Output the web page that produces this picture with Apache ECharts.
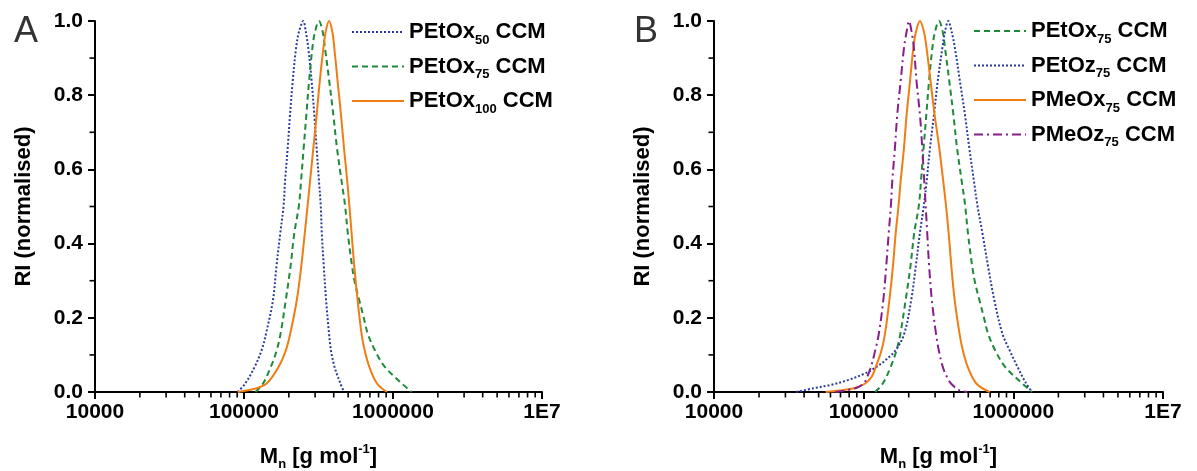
<!DOCTYPE html>
<html>
<head>
<meta charset="utf-8">
<title>GPC CCM</title>
<script src="https://cdn.jsdelivr.net/npm/echarts@6/dist/echarts.min.js"></script>
<style>
  html, body { margin: 0; padding: 0; background: #fff; }
  #chart { width: 1197px; height: 471px; }
</style>
</head>
<body>
<div id="chart"></div>
<script>
// tick labels / positions
var xTickLabels = ['10000', '100000', '1000000', '1E7'];
var yTickLabels = ['0.0', '0.2', '0.4', '0.6', '0.8', '1.0'];
var xMinorTicks = [20000, 30000, 40000, 50000, 60000, 70000, 80000, 90000,
    200000, 300000, 400000, 500000, 600000, 700000, 800000, 900000,
    2000000, 3000000, 4000000, 5000000, 6000000, 7000000, 8000000, 9000000];
var yMinorTicks = [0.1, 0.3, 0.5, 0.7, 0.9];

// panel A  -  [Mn, RI]
var petox50 = [[90600,0],[102000,0.023],[118000,0.068],[131300,0.113],[140700,0.158],[156500,0.248],[165000,0.338],[175200,0.428],[184600,0.504],[188500,0.567],[196400,0.657],[203600,0.747],[212100,0.836],[223400,0.926],[233900,0.971],[250100,1.0],[260000,0.971],[270300,0.926],[284600,0.836],[296500,0.747],[307400,0.657],[318700,0.567],[327200,0.504],[332700,0.428],[343200,0.338],[355600,0.248],[372000,0.158],[383100,0.113],[404900,0.068],[443600,0.023],[469000,0]];
var petox75 = [[119300,0],[134300,0.023],[151500,0.068],[166000,0.113],[176100,0.158],[190800,0.248],[205200,0.338],[217600,0.428],[233900,0.504],[241300,0.567],[251400,0.657],[262100,0.747],[273100,0.836],[287500,0.926],[299600,0.971],[318700,1.0],[337300,0.971],[349800,0.926],[373900,0.836],[397700,0.747],[420900,0.657],[452300,0.567],[476200,0.504],[497400,0.428],[531600,0.338],[555900,0.293],[593300,0.248],[633900,0.203],[676400,0.158],[754900,0.113],[881000,0.068],[1146000,0.023],[1335000,0]];
var petox100 = [[90500,0],[115800,0.008],[141800,0.023],[170700,0.068],[191100,0.113],[204500,0.158],[226200,0.248],[242100,0.338],[255900,0.428],[267500,0.504],[277300,0.567],[292000,0.657],[307400,0.747],[322100,0.836],[340900,0.926],[353300,0.971],[372000,1.0],[391600,0.971],[404000,0.926],[425300,0.836],[447700,0.747],[469000,0.657],[493600,0.567],[509200,0.504],[527400,0.428],[549900,0.338],[578600,0.248],[614600,0.158],[644800,0.113],[693200,0.068],[780800,0.023],[910300,0]];

// panel B  (PEtOx75 is the same trace as in A)
var petoz75 = [[35400,0],[46100,0.01],[60000,0.019],[78200,0.032],[101900,0.05],[122300,0.068],[139900,0.086],[163900,0.113],[186900,0.158],[207800,0.248],[222800,0.338],[237300,0.428],[252800,0.504],[263400,0.567],[277300,0.657],[294900,0.747],[312000,0.836],[335200,0.926],[349300,0.971],[367700,1.0],[387000,0.971],[407500,0.926],[440200,0.836],[475300,0.747],[508100,0.657],[546100,0.567],[574800,0.504],[621500,0.428],[678300,0.338],[746300,0.248],[844000,0.158],[950400,0.11],[1075000,0.065],[1198000,0.028],[1330000,0]];
var pmeox75 = [[55700,0],[86100,0.01],[102500,0.023],[113100,0.041],[120600,0.068],[131800,0.113],[139000,0.158],[148600,0.248],[156800,0.338],[163700,0.428],[171200,0.504],[176500,0.567],[185800,0.657],[193600,0.747],[203800,0.836],[214500,0.926],[223500,0.971],[237700,1.0],[252800,0.971],[263400,0.926],[280200,0.836],[298000,0.747],[320200,0.657],[340400,0.567],[354600,0.504],[369800,0.428],[385500,0.338],[405500,0.248],[436600,0.158],[459500,0.113],[495500,0.068],[565600,0.023],[696300,0]];
var pmeoz75 = [[64700,0],[87900,0.01],[100000,0.023],[105700,0.041],[111900,0.068],[119600,0.113],[126400,0.158],[135300,0.248],[141400,0.338],[147000,0.428],[152100,0.504],[155200,0.567],[161700,0.657],[167600,0.747],[176500,0.836],[185800,0.926],[193600,0.971],[200700,1.0],[209100,0.971],[216700,0.926],[225800,0.836],[237700,0.747],[246400,0.657],[254100,0.567],[259400,0.504],[265900,0.428],[273900,0.338],[285400,0.248],[304000,0.158],[317500,0.113],[337600,0.068],[359700,0.041],[383100,0.023],[434600,0.005],[492400,0]];

// legend names: [polymer, DP]
var legendA = [['PEtOx', '50'], ['PEtOx', '75'], ['PEtOx', '100']];
var legendB = [['PEtOx', '75'], ['PEtOz', '75'], ['PMeOx', '75'], ['PMeOz', '75']];

var FONT = '"Liberation Sans", Arial, sans-serif';
var blue = '#2b3c9e', green = '#1f8a3c', orange = '#f07d14', purple = '#861f8a';

function nm(p) { return p[0] + p[1] + ' CCM'; }
function legendFmt(name) {
    var m = name.match(/^([A-Za-z]+)(\d+) CCM$/);
    return '{b|' + m[1] + '}{s|' + m[2] + '}{b| CCM}';
}

var richLegend = {
    b: { fontSize: 22, fontWeight: 'bold', fontFamily: FONT, color: '#000', lineHeight: 26 },
    s: { fontSize: 13, fontWeight: 'bold', fontFamily: FONT, color: '#000', padding: [16, 0, 0, 0] }
};

function xAxisOpt(idx) {
    return {
        type: 'log', gridIndex: idx, logBase: 10, min: 10000, max: 10000000,
        axisLine: { lineStyle: { color: '#000', width: 2 } },
        axisTick: { inside: false, length: 7, lineStyle: { color: '#000', width: 2 } },
        splitLine: { show: false },
        axisLabel: {
            margin: 10, fontSize: 21, fontWeight: 'bold', fontFamily: FONT, color: '#000',
            formatter: function (v) { return xTickLabels[Math.round(Math.log10(v)) - 4]; }
        },
        name: '{b|M}{s|n}{b| [g mol}{p|-1}{b|]}',
        nameLocation: 'middle', nameGap: 50,
        nameTextStyle: {
            rich: {
                b: { fontSize: 22, fontWeight: 'bold', fontFamily: FONT, color: '#000', lineHeight: 26 },
                s: { fontSize: 13, fontWeight: 'bold', fontFamily: FONT, color: '#000', padding: [16, 0, 0, 0] },
                p: { fontSize: 13, fontWeight: 'bold', fontFamily: FONT, color: '#000', padding: [0, 0, 14, 0] }
            }
        }
    };
}
function yAxisOpt(idx, gap) {
    return {
        type: 'value', gridIndex: idx, min: 0, max: 1, interval: 0.2,
        axisLine: { show: true, lineStyle: { color: '#000', width: 2 } },
        axisTick: { show: true, inside: false, length: 7, lineStyle: { color: '#000', width: 2 } },
        splitLine: { show: false },
        axisLabel: {
            margin: 12, fontSize: 21, fontWeight: 'bold', fontFamily: FONT, color: '#000',
            formatter: function (v) { return yTickLabels[Math.round(v * 5)]; }
        },
        name: 'RI (normalised)', nameLocation: 'middle', nameGap: gap,
        nameTextStyle: { fontSize: 22, fontWeight: 'bold', fontFamily: FONT, color: '#000' }
    };
}
function line(name, data, color, type, xi) {
    return {
        name: name, type: 'line', data: data, xAxisIndex: xi, yAxisIndex: xi,
        symbol: 'none', smooth: 0.35, z: 3,
        lineStyle: { color: color, width: 2, type: type },
        itemStyle: { color: color }
    };
}
// short minor ticks on both axes (log axis has no 2..9 minor ticks of its own)
function tickMarks(xi, data, size, offset) {
    return {
        type: 'scatter', xAxisIndex: xi, yAxisIndex: xi, silent: true, clip: false, z: 6,
        symbol: 'rect', symbolSize: size, symbolOffset: offset,
        itemStyle: { color: '#000', opacity: 1 },
        emphasis: { disabled: true },
        data: data
    };
}
var xMinorPts = xMinorTicks.map(function (v) { return [v, 0]; });
var yMinorPts = yMinorTicks.map(function (v) { return [10000, v]; });

var chart = echarts.init(document.getElementById('chart'), null, { renderer: 'canvas' });
var option = {
    animation: false,
    backgroundColor: '#fff',
    grid: [
        { left: 95, right: 655, top: 21, bottom: 79, containLabel: false, outerBoundsMode: 'none' },
        { left: 714, right: 34, top: 21, bottom: 79, containLabel: false, outerBoundsMode: 'none' }
    ],
    xAxis: [xAxisOpt(0), xAxisOpt(1)],
    yAxis: [yAxisOpt(0, 60), yAxisOpt(1, 60)],
    legend: [
        {
            data: legendA.map(nm), orient: 'vertical', left: 351, top: 21, padding: 0,
            itemWidth: 52, itemHeight: 14, itemGap: 9, selectedMode: false,
            itemStyle: { opacity: 0 },
            formatter: legendFmt, textStyle: { rich: richLegend }
        },
        {
            data: legendB.map(nm), orient: 'vertical', left: 973, top: 20, padding: 0,
            itemWidth: 52, itemHeight: 14, itemGap: 9, selectedMode: false,
            itemStyle: { opacity: 0 },
            formatter: legendFmt, textStyle: { rich: richLegend }
        }
    ],
    graphic: [
        { type: 'text', left: 14, top: 14, style: { text: 'A', fontSize: 36, fontFamily: FONT, fill: '#333' } },
        { type: 'text', left: 634, top: 14, style: { text: 'B', fontSize: 36, fontFamily: FONT, fill: '#333' } }
    ],
    series: [
        line(nm(legendA[0]), petox50, blue, 'dotted', 0),
        line(nm(legendA[1]), petox75, green, [6, 4], 0),
        line(nm(legendA[2]), petox100, orange, 'solid', 0),
        line(nm(legendB[0]), petox75, green, [6, 4], 1),
        line(nm(legendB[1]), petoz75, blue, 'dotted', 1),
        line(nm(legendB[2]), pmeox75, orange, 'solid', 1),
        line(nm(legendB[3]), pmeoz75, purple, [9, 4, 2, 4], 1),
        tickMarks(0, xMinorPts, [1.6, 5], [0, 3]),
        tickMarks(0, yMinorPts, [5, 1.6], [-3, 0]),
        tickMarks(1, xMinorPts, [1.6, 5], [0, 3]),
        tickMarks(1, yMinorPts, [5, 1.6], [-3, 0])
    ]
};
chart.setOption(option);
</script>
</body>
</html>
